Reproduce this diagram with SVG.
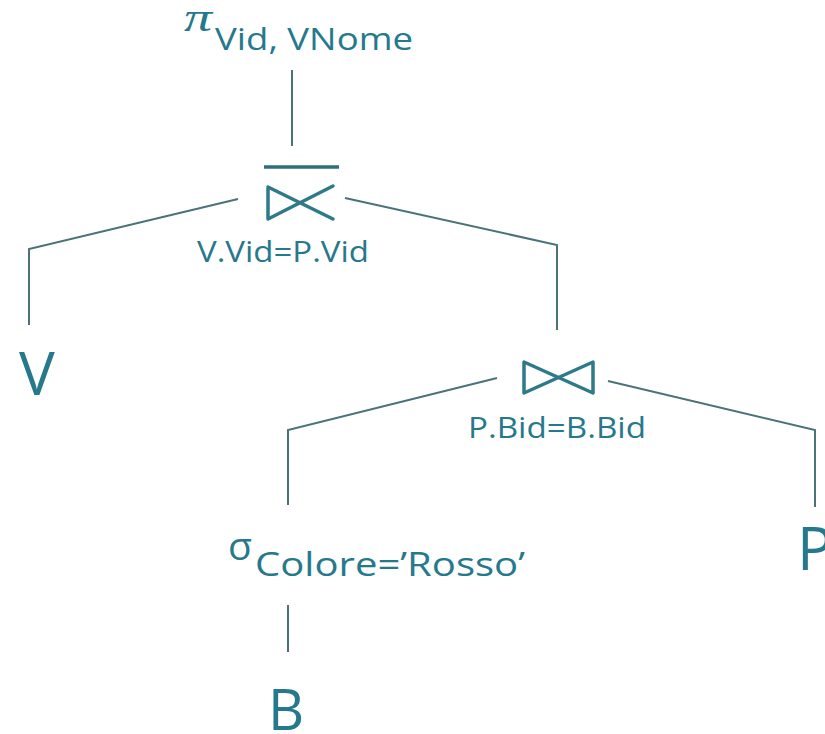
<svg xmlns="http://www.w3.org/2000/svg" width="825" height="734" viewBox="0 0 825 734">
<style>
.t{font-family:"Open Sans","Noto Sans",sans-serif;fill:#26798d}
.ln{stroke:#4a7378;stroke-width:2;fill:none}
.sym{stroke:#2e7a88;stroke-width:3.5;fill:none;stroke-linejoin:round;stroke-linecap:round}
</style>
<rect width="825" height="734" fill="#ffffff"/>
<g id="connectors">
<line class="ln" x1="292" y1="70" x2="292" y2="146"/>
<polyline class="ln" points="238,199 29,249 29,325"/>
<polyline class="ln" points="345,198 557,245 557,330"/>
<polyline class="ln" points="497,378 288,430 288,505"/>
<polyline class="ln" points="608,381 815,430 815,507"/>
<line class="ln" x1="288" y1="605" x2="288" y2="652"/>
</g>
<g id="projection">
<text x="184" y="31" textLength="28" lengthAdjust="spacingAndGlyphs" style="font-family:'Liberation Serif',serif;font-style:italic;font-size:40px;fill:#26798d">π</text>
<text class="t" x="215" y="50" font-size="31" textLength="198" lengthAdjust="spacingAndGlyphs">Vid, VNome</text>
</g>
<g id="semijoin">
<line x1="264" y1="167" x2="339" y2="167" stroke="#2e6f7c" stroke-width="3.5"/>
<path class="sym" d="M268,187 L268,219 L333,186 M268,187 L333,219"/>
<text class="t" x="197" y="262" font-size="30" textLength="172" lengthAdjust="spacingAndGlyphs">V.Vid=P.Vid</text>
</g>
<g id="V">
<text class="t" x="19" y="395" font-size="60">V</text>
</g>
<g id="join">
<path class="sym" d="M524,362 L593,393 L593,362 L524,393 Z"/>
<text class="t" x="468" y="438" font-size="30" textLength="178" lengthAdjust="spacingAndGlyphs">P.Bid=B.Bid</text>
</g>
<g id="P">
<text class="t" x="797" y="570" font-size="60">P</text>
</g>
<g id="selection">
<text class="t" x="228" y="560" font-size="38" textLength="24" lengthAdjust="spacingAndGlyphs">σ</text>
<text class="t" x="255" y="576" font-size="33" textLength="270" lengthAdjust="spacingAndGlyphs">Colore=’Rosso’</text>
</g>
<g id="B">
<text class="t" x="268" y="730" font-size="56">B</text>
</g>
</svg>
